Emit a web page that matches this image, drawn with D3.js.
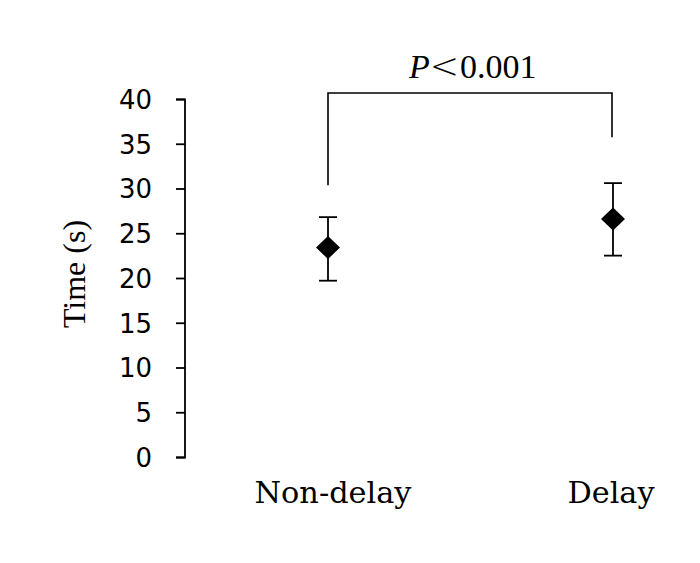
<!DOCTYPE html>
<html><head><meta charset="utf-8">
<script src="https://cdn.jsdelivr.net/npm/d3@7"></script>
<style>body{margin:0;background:#fff}</style>
</head><body>
<svg id="c" width="700" height="563"></svg>
<script>
const categories = ["Non-delay", "Delay"];
const means = [23.4, 26.6];
const upper = [26.8, 30.6];
const lower = [19.7, 22.5];
const yTicks = [0, 5, 10, 15, 20, 25, 30, 35, 40];
const sigLabel = "P";
const sigSymbol = "<";
const sigValue = "0.001";

const svg = d3.select("#c");
const y = d3.scaleLinear().domain([0, 40]).range([457, 99]);
const x = d3.scalePoint().domain(categories).range([328, 613]);

const yAxis = d3.axisLeft(y).tickValues(yTicks).tickSize(9).tickPadding(24);
const gy = svg.append("g").attr("transform", "translate(185,0)").call(yAxis);
gy.select(".domain").attr("stroke", "#000").attr("stroke-width", 1.8).attr("d", "M-9,99.5H0V457.5H-9");
gy.selectAll(".tick line").attr("stroke", "#000").attr("stroke-width", 1.8);
gy.selectAll(".tick text").attr("fill", "#000").attr("dy", "0.36em")
  .style("font-family", "'DejaVu Sans', sans-serif").style("font-size", "26px");

svg.append("text").attr("transform", "translate(85,274) rotate(-90)")
  .attr("text-anchor", "middle").style("font-family", "'Liberation Serif', serif")
  .style("font-size", "32px").text("Time (s)");

const catCx = [333, 611];
const catW = [157, 87];
svg.selectAll(".cat").data(categories).enter().append("text")
  .attr("x", (d, i) => catCx[i] - catW[i] / 2).attr("y", 503)
  .attr("textLength", (d, i) => catW[i]).attr("lengthAdjust", "spacingAndGlyphs")
  .style("font-family", "'DejaVu Serif', serif").style("font-size", "29px").text(d => d);

const g = svg.append("g");
categories.forEach((c, i) => {
  const cx = x(c);
  g.append("line").attr("x1", cx).attr("x2", cx).attr("y1", y(upper[i])).attr("y2", y(lower[i]))
    .attr("stroke", "#000").attr("stroke-width", 1.8);
  [upper[i], lower[i]].forEach(v => g.append("line").attr("x1", cx - 9).attr("x2", cx + 9)
    .attr("y1", y(v)).attr("y2", y(v)).attr("stroke", "#000").attr("stroke-width", 1.8));
  g.append("path").attr("transform", `translate(${cx},${y(means[i])})`)
    .attr("d", "M0,-11.5L12,0L0,11.5L-12,0Z").attr("fill", "#000");
});

// significance bracket
const bTop = 93;
svg.append("path")
  .attr("d", `M${x(categories[0])},${y(upper[0]) - 32}V${bTop}H${x(categories[1]) - 1}V${y(upper[1]) - 46}`)
  .attr("fill", "none").attr("stroke", "#000").attr("stroke-width", 1.6);
const t = svg.append("text").attr("x", 409).attr("y", 78)
  .style("font-family", "'Liberation Serif', serif").style("font-size", "34px");
t.append("tspan").style("font-style", "italic").text(sigLabel);
t.append("tspan").attr("dx", 0)
  .style("font-family", "'DejaVu Sans ExtraLight', 'DejaVu Sans Light', 'DejaVu Sans', sans-serif")
  .style("font-size", "35px").text(sigSymbol);
t.append("tspan").attr("dx", 1).text(sigValue);
</script>
</body></html>
